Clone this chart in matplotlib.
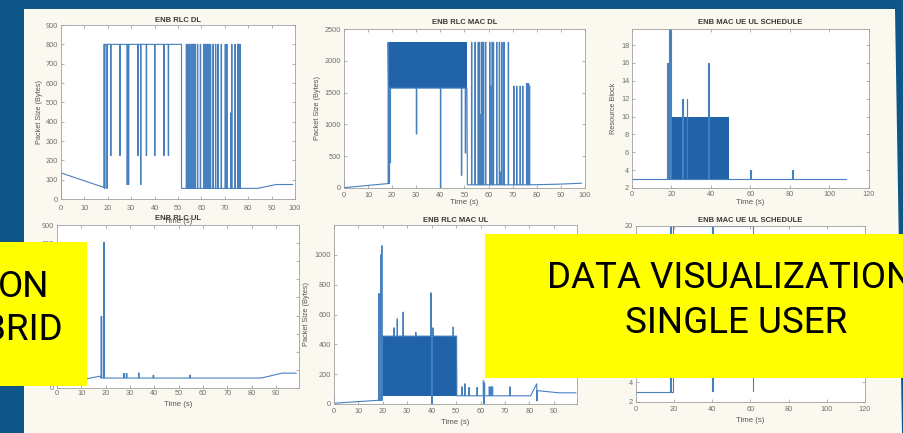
import matplotlib
matplotlib.use("Agg")
import matplotlib.pyplot as plt
from matplotlib.patches import Polygon, Rectangle

W, H = 904, 433

# ---------------- data ----------------
# ENB RLC DL
dl_lead_t = [0, 0, 18.3]
dl_lead_v = [0, 135, 60]
dl_dip_t = [18.6, 19.6, 21.2, 25.1, 28.2, 28.8, 32.8, 34.0, 36.4, 40.0, 43.9, 45.8]
dl_dip_v = [55, 55, 225, 225, 75, 75, 225, 75, 225, 225, 225, 225]
dl_burst_t = [53.5, 54.2, 54.7, 55.1, 55.5, 55.9, 56.3, 56.8, 57.3, 58.3, 59.5, 60.9,
              61.3, 61.7, 62.2, 62.7, 63.2, 63.8, 64.9, 66.0, 67.0, 68.4, 70.1, 70.8,
              72.5, 72.9, 74.3, 75.5, 75.8, 76.1, 76.4]
dl_burst_v = [800, 800, 800, 330, 800, 800, 800, 800, 800, 800, 800, 800,
              800, 800, 800, 800, 800, 800, 800, 800, 800, 800, 800, 800,
              445, 800, 800, 800, 800, 330, 800]
dl_tail_t = [76.8, 84, 92, 99]
dl_tail_v = [55, 55, 75, 75]

# ENB RLC MAC DL
mdl_lead_t = [0, 0, 18.3]
mdl_lead_v = [130, 5, 70]
mdl_block = (18.5, 51.0, 1570, 2290)
mdl_dip_t = [18.7, 19.1, 30.0, 40.0, 48.7, 50.3]
mdl_dip_v = [70, 400, 850, 0, 200, 550]
mdl_burst_t = [52.9, 54.3, 55.6, 56.0, 56.4, 56.9, 57.4, 57.8, 58.7, 60.4, 60.9, 61.4,
               61.9, 63.3, 64.4, 65.0, 65.4, 66.3, 68.1, 70.4, 71.6, 73.0, 74.1, 75.7,
               76.1, 76.5, 76.9]
mdl_burst_v = [2290, 2290, 2290, 2290, 1150, 2290, 2290, 2290, 2290, 2290, 1600, 2290,
               2290, 2290, 2290, 250, 2290, 2290, 2290, 1600, 1600, 1600, 1600, 1640,
               1640, 1640, 1600]
mdl_tail_t = [77.2, 89, 98.5]
mdl_tail_v = [50, 60, 75]

# ENB MAC UE UL SCHEDULE (top)
sch_block = (19.0, 49.3, 3, 10)
sch_spike_t = [17.7, 18.7, 19.2, 25.5, 27.8, 38.6, 60.0, 81.0]
sch_spike_v = [16, 19.8, 19.8, 12, 12, 16, 4, 4]
sch_end = 108.5

# ENB RLC UL
ul_lead_t = [0, 12, 17.5]
ul_lead_v = [130, 50, 65]
ul_spike_t = [18.1, 19.2, 27.4, 28.5, 33.5, 39.5, 54.5]
ul_spike_v = [395, 805, 80, 80, 82, 70, 70]
ul_tail_t = [84, 92.5, 98.3]
ul_tail_v = [55, 82, 82]

# ENB RLC MAC UL
mul_lead_t = [0, 0, 18.2]
mul_lead_v = [60, 5, 25]
mul_pre_t = [18.3, 19.1, 19.5]
mul_pre_v = [740, 1000, 1060]
mul_block = (19.6, 50.2, 55, 455)
mul_top_t = [24.5, 25.8, 28.2, 33.4, 39.6, 40.0, 40.4, 48.7]
mul_top_v = [510, 570, 615, 480, 745, 0, 510, 515]
mul_post_t = [52.3, 53.5, 55.2, 58.5, 61.1, 61.3, 61.5, 63.5, 64.2, 64.8, 72.0]
mul_post_v = [115, 135, 110, 110, 155, 0, 140, 115, 115, 115, 115]
mul_tail_t = [80.5, 83.0, 83.1, 83.2, 92, 99]
mul_tail_v = [55, 135, 20, 90, 75, 75]

# ENB MAC UE UL SCHEDULE (bottom)
sch2_t = [0, 18.0, 18.0, 18.6, 18.6, 19.3, 19.3, 40.0, 40.0, 40.2, 40.2, 61.5, 61.5]
sch2_v = [3, 3, 20, 20, 3, 3, 20, 20, 3.1, 3.1, 20, 20, 3.1]

LINE = "#4680bf"
FILL = "#2163a8"
plt.rcParams["font.family"] = ["Liberation Sans", "DejaVu Sans"]


def pulses(base, times, levels, w=0.2):
    t, v = [], []
    for x, lv in zip(times, levels):
        t += [x, x, x + w, x + w]
        v += [base, lv, lv, base]
    return t, v


def make_axes(x0, x1, top, bottom):
    return fig.add_axes([x0 / W, 1 - bottom / H, (x1 - x0) / W, (bottom - top) / H])


def style(ax, box, title, ylabel, xlim, ylim, xticks, yticks, title_y, xlab_y, ylab_x, xpad):
    x0, x1, top, bottom = box
    ax.set_facecolor("white")
    ax.set_xlim(*xlim)
    ax.set_ylim(*ylim)
    ax.set_xticks(xticks)
    ax.set_yticks(yticks)
    ax.tick_params(direction="in", length=2.5, width=0.5, top=True, right=True,
                   labelsize=5.3, labelcolor="#707070", color="#909090")
    ax.tick_params(axis="x", pad=xpad)
    ax.tick_params(axis="y", pad=2)
    for s in ax.spines.values():
        s.set_color("#a0a0a0")
        s.set_linewidth(0.6)
    h = bottom - top
    ax.set_title(title, fontsize=5.5, fontweight="bold", color="#3a3a3a",
                 y=(bottom - title_y) / h, va="center", pad=0)
    ax.set_xlabel("Time (s)", fontsize=5.6, color="#555555")
    ax.xaxis.set_label_coords(0.5, (bottom - xlab_y) / h)
    ax.xaxis.label.set_va("center")
    ax.set_ylabel(ylabel, fontsize=5.3, color="#555555")
    ax.yaxis.set_label_coords((ylab_x - x0) / (x1 - x0), 0.5)
    ax.yaxis.label.set_va("center")


fig = plt.figure(figsize=(W / 100, H / 100), dpi=100, facecolor="#0e5687")

# cream slide panel
panel = [(24, 9), (895, 9), (902, 433), (24, 433)]
fig.add_artist(Polygon([(x / W, 1 - y / H) for x, y in panel], closed=True,
                       transform=fig.transFigure, facecolor="#fbf8ef",
                       edgecolor="none", zorder=-1))

# 1: ENB RLC DL
box = (61, 295, 25, 199)
ax = make_axes(*box)
t, v = list(dl_lead_t), list(dl_lead_v)
t += [18.3]; v += [800]
pt, pv = pulses(800, dl_dip_t, dl_dip_v)
t += pt + [51.5, 51.5, 53.3]; v += pv + [800, 55, 55]
pt, pv = pulses(55, dl_burst_t, dl_burst_v)
t += pt + dl_tail_t; v += pv + dl_tail_v
ax.plot(t, v, color=LINE, lw=0.8)
style(ax, box, "ENB RLC DL", "Packet Size (Bytes)", (0, 100), (0, 900),
      range(0, 101, 10), range(0, 901, 100), 20, 221, 40, 4.5)

# 2: ENB RLC MAC DL
box = (344, 585, 29, 188)
ax = make_axes(*box)
t, v = list(mdl_lead_t), list(mdl_lead_v)
t += [18.3, 18.5]; v += [2290, 1570]
pt, pv = pulses(1570, mdl_dip_t, mdl_dip_v)
t += pt + [51.0, 51.2]; v += pv + [1570, 50]
pt, pv = pulses(50, mdl_burst_t, mdl_burst_v)
t += pt + mdl_tail_t; v += pv + mdl_tail_v
ax.fill_between(mdl_block[:2], mdl_block[2], mdl_block[3], color=FILL, lw=0)
ax.plot(t, v, color=LINE, lw=0.8)
style(ax, box, "ENB RLC MAC DL", "Packet Size (Bytes)", (0, 100), (0, 2500),
      range(0, 101, 10), range(0, 2501, 500), 23, 203, 318, 3.0)

# 3: ENB MAC UE UL SCHEDULE
box = (632, 869, 29, 188)
ax = make_axes(*box)
pt, pv = pulses(3, sch_spike_t, sch_spike_v, w=0.3)
t = [0] + pt + [sch_end]; v = [3] + pv + [3]
ax.fill_between(sch_block[:2], sch_block[2], sch_block[3], color=FILL, lw=0)
ax.plot(t, v, color=LINE, lw=0.8)
style(ax, box, "ENB MAC UE UL SCHEDULE", "Resource Block", (0, 120), (2, 19.8),
      range(0, 121, 20), range(2, 19, 2), 23, 202, 614, 1.8)

# 4: ENB RLC UL
box = (57, 299, 225, 388)
ax = make_axes(*box)
pt, pv = pulses(55, ul_spike_t, ul_spike_v, w=0.3)
t = ul_lead_t + pt + ul_tail_t; v = ul_lead_v + pv + ul_tail_v
ax.plot(t, v, color=LINE, lw=0.8)
style(ax, box, "ENB RLC UL", "Packet Size (Bytes)", (0, 99.5), (0, 900),
      range(0, 91, 10), range(0, 901, 100), 219, 405, 37, 1.2)

# 5: ENB RLC MAC UL
box = (334, 577, 225, 404)
ax = make_axes(*box)
t, v = list(mul_lead_t), list(mul_lead_v)
pt, pv = pulses(25, mul_pre_t, mul_pre_v)
t += pt + [19.6]; v += pv + [455]
pt, pv = pulses(455, mul_top_t, mul_top_v)
t += pt + [50.2, 50.3]; v += pv + [455, 55]
pt, pv = pulses(55, mul_post_t, mul_post_v)
t += pt + mul_tail_t; v += pv + mul_tail_v
ax.fill_between(mul_block[:2], mul_block[2], mul_block[3], color=FILL, lw=0)
ax.plot(t, v, color=LINE, lw=0.8)
style(ax, box, "ENB RLC MAC UL", "Packet Size (Bytes)", (0, 99.5), (0, 1200),
      range(0, 91, 10), range(0, 1001, 200), 221, 422, 307, 3.0)

# 6: ENB MAC UE UL SCHEDULE
box = (636, 865, 226, 402)
ax = make_axes(*box)
ax.plot(sch2_t, sch2_v, color=LINE, lw=0.8)
style(ax, box, "ENB MAC UE UL SCHEDULE", "Resource Block", (0, 120), (2, 20),
      range(0, 121, 20), range(2, 21, 2), 220, 420, 614, 3.0)

# yellow overlay boxes
for x0, y0, x1, y1 in [(0, 242, 87, 386), (485, 234, 904, 378)]:
    fig.add_artist(Rectangle((x0 / W, 1 - y1 / H), (x1 - x0) / W, (y1 - y0) / H,
                             transform=fig.transFigure, facecolor="#ffff00",
                             edgecolor="none", zorder=10))

big = dict(fontsize=26.5, family="Roboto", color="black", va="baseline", zorder=11)
fig.text(547 / W, 1 - 288 / H, "DATA VISUALIZATION", ha="left", **big)
fig.text(736.5 / W, 1 - 333 / H, "SINGLE USER", ha="center", **big)
fig.text(49 / W, 1 - 297 / H, "ON", ha="right", **big)
fig.text(63 / W, 1 - 340 / H, "BRID", ha="right", **big)

fig.savefig("out.png", dpi=100, facecolor=fig.get_facecolor())
